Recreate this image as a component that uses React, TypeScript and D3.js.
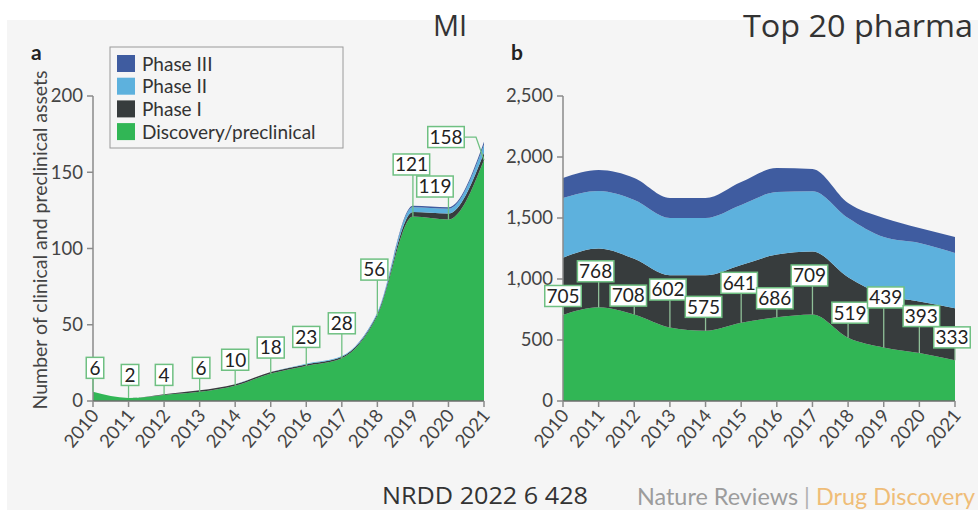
import React from 'react';
import * as d3 from 'd3';

const years = [2010, 2011, 2012, 2013, 2014, 2015, 2016, 2017, 2018, 2019, 2020, 2021];
const legendNames = ['Phase III', 'Phase II', 'Phase I', 'Discovery/preclinical'];

// Panel a: MI
const aDiscovery = [6, 2, 4, 6, 10, 18, 23, 28, 56, 121, 119, 158];
const aPhase1 = [0, 0, 0.5, 1, 1, 1, 1, 1, 1, 3, 4, 5];
const aPhase2 = [0, 0, 0, 0, 0, 0, 0.5, 0.5, 1, 3, 3, 5];
const aPhase3 = [0, 0, 0, 0, 0, 0, 0, 0, 0, 1, 1, 2];
const aTicks = [0, 50, 100, 150, 200];

// Panel b: Top 20 pharma
const bDiscovery = [705, 768, 708, 602, 575, 641, 686, 709, 519, 439, 393, 333];
const bPhase1 = [470, 482, 457, 428, 455, 474, 514, 516, 496, 431, 422, 427];
const bPhase2 = [489, 471, 483, 470, 470, 492, 513, 495, 485, 474, 480, 453];
const bPhase3 = [164, 172, 180, 164, 164, 188, 197, 182, 123, 156, 123, 131];
const bTicks = [0, 500, 1000, 1500, 2000, 2500];

// layout of the callout boxes (pixels): rise above the point, horizontal shift
const aRise = [24, 23, 20, 24, 26, 26, 29, 35, 46, 52, 33, 23];
const aShift = [2, 1.5, 0, 1.5, 0, 0, 0, 0, -3, -1.5, -13.5, -38];
const bRise = [19, 36, 19, 38, 24, 40, 19, 39, 25, 50, 37, 23];
const bShift = [0, -3, -6, -2, -2, -2, -2, -3, 2, 2, 2, -3];

const KEYS = ['discovery', 'phase1', 'phase2', 'phase3'];
const COLORS: Record<string, string> = {
  discovery: '#31b655',
  phase1: '#373c3d',
  phase2: '#5db1dd',
  phase3: '#3f5ca0',
};
const LEGEND_COLORS = [COLORS.phase3, COLORS.phase2, COLORS.phase1, COLORS.discovery];

const FONT = 'Lato, "Open Sans", sans-serif';
const AXIS = '#8a8a8a';
const TEXT = '#444';
const BOX = '#6fc082';

type PanelProps = {
  x0: number;
  x1: number;
  yMax: number;
  disc: number[];
  p1: number[];
  p2: number[];
  p3: number[];
  ticks: number[];
  fmt: (v: number) => string;
  rise: number[];
  shift: number[];
  leaderColor: string;
};

function Panel({ x0, x1, yMax, disc, p1, p2, p3, ticks, fmt, rise, shift, leaderColor }: PanelProps) {
  const yBase = 401;
  const yTop = 96;
  const x = d3.scaleLinear().domain([years[0], years[years.length - 1]]).range([x0, x1]);
  const y = d3.scaleLinear().domain([0, yMax]).range([yBase, yTop]);
  const rows = years.map((yr, i) => ({ year: yr, discovery: disc[i], phase1: p1[i], phase2: p2[i], phase3: p3[i] }));
  const stack = d3.stack<any>().keys(KEYS)(rows);
  const area = d3
    .area<any>()
    .x((d) => x(d.data.year))
    .y0((d) => y(d[0]))
    .y1((d) => y(d[1]))
    .curve(d3.curveMonotoneX);

  return (
    <g>
      {stack.map((s) => (
        <path key={s.key} d={area(s) || ''} fill={COLORS[s.key]} />
      ))}
      {/* y axis */}
      <line x1={x0} x2={x0} y1={y(0)} y2={y(yMax)} stroke={AXIS} strokeWidth={1.5} />
      {ticks.map((t) => (
        <g key={t}>
          <line x1={x0 - 6} x2={x0} y1={y(t)} y2={y(t)} stroke={AXIS} strokeWidth={1.5} />
          <text x={x0 - 10} y={y(t)} dy="0.35em" textAnchor="end" fontSize={18.5} fill={TEXT} fontFamily={FONT}>
            {fmt(t)}
          </text>
        </g>
      ))}
      {/* x axis */}
      <line x1={x0} x2={x1} y1={yBase} y2={yBase} stroke="#6d6d6d" strokeWidth={1.5} />
      {years.map((yr) => (
        <g key={yr}>
          <line x1={x(yr)} x2={x(yr)} y1={yBase} y2={yBase + 6} stroke={AXIS} strokeWidth={1.5} />
          <text
            transform={`translate(${x(yr) + 7},${yBase + 15}) rotate(-50)`}
            textAnchor="end"
            fontSize={18.5}
            fill={TEXT}
            fontFamily={FONT}
          >
            {yr}
          </text>
        </g>
      ))}
      {/* callouts */}
      {years.map((yr, i) => {
        const px = x(yr);
        const py = y(disc[i]);
        const label = String(disc[i]);
        const w = 8 + label.length * 9.5;
        const h = 21;
        const cx = px + shift[i];
        const cy = py - rise[i];
        const left = cx - w / 2;
        const right = cx + w / 2;
        let leader: string;
        if (px > right + 2) {
          leader = `M${right},${cy}H${px - 8}L${px},${py}`;
        } else {
          leader = `M${px},${cy + h / 2}V${py}`;
        }
        return (
          <g key={yr}>
            <path d={leader} fill="none" stroke={leaderColor} strokeWidth={1.3} />
            <rect x={left} y={cy - h / 2} width={w} height={h} fill="#ffffff" stroke={BOX} strokeWidth={1.5} />
            <text x={cx} y={cy} dy="0.36em" textAnchor="middle" fontSize={19} fill="#222" fontFamily={FONT}>
              {label}
            </text>
          </g>
        );
      })}
    </g>
  );
}

export default function App() {
  const fmtA = (v: number) => String(v);
  const fmtB = d3.format(',');
  return (
    <svg
      width={978}
      height={517}
      style={{ position: 'absolute', left: 0, top: 0, display: 'block' }}
      xmlns="http://www.w3.org/2000/svg"
    >
      <rect x={0} y={0} width={978} height={517} fill="#ffffff" />
      <rect x={7} y={20} width={971} height={490} fill="#f5f5f5" />

      {/* Panel a */}
      <text x={31} y={60} fontSize={21} fontWeight="bold" fill="#222" fontFamily={FONT}>
        a
      </text>
      <text
        transform="translate(47,240) rotate(-90)"
        textAnchor="middle"
        fontSize={19.5}
        fill={TEXT}
        fontFamily={FONT}
      >
        Number of clinical and preclinical assets
      </text>
      <Panel
        x0={93}
        x1={484}
        yMax={200}
        disc={aDiscovery}
        p1={aPhase1}
        p2={aPhase2}
        p3={aPhase3}
        ticks={aTicks}
        fmt={fmtA}
        rise={aRise}
        shift={aShift}
        leaderColor="#6fc082"
      />
      {/* legend */}
      <rect x={110} y={47} width={233} height={101} fill="#f5f5f5" stroke="#9a9a9a" strokeWidth={1} />
      {legendNames.map((n, i) => (
        <g key={n}>
          <rect x={117} y={55 + i * 22.7} width={18} height={17} fill={LEGEND_COLORS[i]} />
          <text x={142} y={64 + i * 22.7} dy="0.35em" fontSize={19} fill="#333" fontFamily={FONT}>
            {n}
          </text>
        </g>
      ))}

      {/* Panel b */}
      <text x={511} y={60} fontSize={21} fontWeight="bold" fill="#222" fontFamily={FONT}>
        b
      </text>
      <Panel
        x0={563}
        x1={955}
        yMax={2500}
        disc={bDiscovery}
        p1={bPhase1}
        p2={bPhase2}
        p3={bPhase3}
        ticks={bTicks}
        fmt={fmtB}
        rise={bRise}
        shift={bShift}
        leaderColor="#8fbf98"
      />

      {/* overlay titles */}
      <text x={433} y={36} fontSize={29} fill="#333" fontFamily='"Open Sans", sans-serif'>
        MI
      </text>
      <text
        x={743}
        y={37}
        fontSize={31}
        fill="#333"
        fontFamily='"Open Sans", sans-serif'
        textLength={230}
        lengthAdjust="spacingAndGlyphs"
      >
        Top 20 pharma
      </text>
      <text
        x={382}
        y={504}
        fontSize={24}
        fill="#333"
        fontFamily='"Open Sans", sans-serif'
        textLength={206}
        lengthAdjust="spacingAndGlyphs"
      >
        NRDD 2022 6 428
      </text>
      <text x={637} y={505} fontSize={22.5} fontFamily={FONT} textLength={338} lengthAdjust="spacingAndGlyphs">
        <tspan fill="#9c9c9c">Nature Reviews</tspan>
        <tspan fill="#b0b0b0"> | </tspan>
        <tspan fill="#efbd78">Drug Discovery</tspan>
      </text>
    </svg>
  );
}
